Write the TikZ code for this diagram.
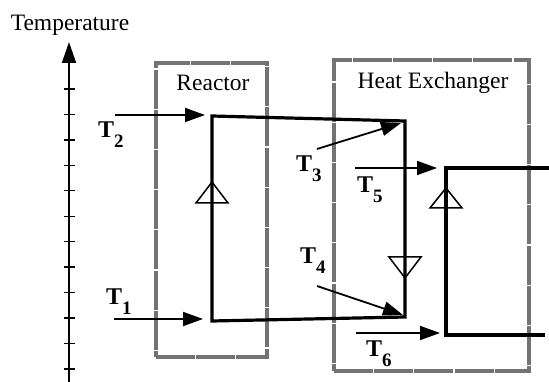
\documentclass[tikz,border=0pt]{standalone}
\usepackage{fontspec}
\setmainfont{Liberation Serif}
\usetikzlibrary{arrows.meta}
\newcommand{\tsub}[1]{\textbf{T}\raisebox{-10pt}{\fontsize{19}{19}\selectfont\bfseries #1}}
\begin{document}
\begin{tikzpicture}[x=1pt,y=-1pt,
  box/.style={draw=black!55, line width=3.4pt, dash pattern=on 39pt off 1.2pt, inner sep=0},
  flow/.style={line width=3.2pt, line join=miter},
  lab/.style={font=\fontsize{23.5}{26}\selectfont, inner sep=0},
  tlab/.style={font=\fontsize{24}{25}\selectfont\bfseries, inner sep=0, anchor=base west},
  ptr/.style={line width=1.8pt, -{Triangle[length=20pt,width=14pt]}},
  dirmark/.style={line width=1.5pt}]
\useasboundingbox (0,0) rectangle (549,382);
% axis
\coordinate (ax0) at (69,382);
\coordinate (ax1) at (69,42);
\draw[line width=1.8pt,-{Triangle[length=21pt,width=14pt]}] (ax0) -- (ax1);
\foreach \i in {0,...,11} \draw[line width=1.4pt] (64,89+25.45*\i) -- (75,89+25.45*\i);
\node[lab] (temp) at (70,25) {Temperature};
% boxes
\node[box, minimum width=111pt, minimum height=294pt] (reactor) at (211.5,210) {};
\node[box, minimum width=195pt, minimum height=311pt] (hx) at (431.5,215.5) {};
\node[lab] (rlab) at (213,83) {Reactor};
\node[lab] (hlab) at (433,83) {Heat Exchanger};
% loop
\coordinate (a) at (212,116);
\coordinate (b) at (405,121);
\coordinate (c) at (405,317);
\coordinate (d) at (212,321);
\draw[flow] (a) -- (b) -- (c) -- (d) -- cycle;
\coordinate (e) at (549,168);
\coordinate (f) at (446,168);
\coordinate (g) at (446,335);
\coordinate (h) at (545,335);
\draw[flow] (e) -- (f) -- (g) -- (h);
% direction marks
\draw[dirmark] (212,182) -- (196,203) -- (228,203) -- cycle;
\draw[dirmark] (446,188) -- (430,208) -- (462,208) -- cycle;
\draw[dirmark] (405,278) -- (389,257) -- (421,257) -- cycle;
% temperature pointers
\coordinate (p2) at (115,115); \coordinate (q2) at (205,115);
\coordinate (p1) at (114,319); \coordinate (q1) at (203,319);
\coordinate (p3) at (317,149); \coordinate (q3) at (401,123);
\coordinate (p4) at (317,286); \coordinate (q4) at (403,315);
\coordinate (p5) at (355,168); \coordinate (q5) at (437,168);
\coordinate (p6) at (356,333); \coordinate (q6) at (440,333);
\draw[ptr] (p1) -- (q1);
\draw[ptr] (p2) -- (q2);
\draw[ptr] (p3) -- (q3);
\draw[ptr] (p4) -- (q4);
\draw[ptr] (p5) -- (q5);
\draw[ptr] (p6) -- (q6);
\node[tlab] (t1) at (106,304) {\tsub{1}};
\node[tlab] (t2) at (98,138) {\tsub{2}};
\node[tlab] (t3) at (296,172) {\tsub{3}};
\node[tlab] (t4) at (300,263) {\tsub{4}};
\node[tlab] (t5) at (357,193) {\tsub{5}};
\node[tlab] (t6) at (366,356) {\tsub{6}};
\end{tikzpicture}
\end{document}
